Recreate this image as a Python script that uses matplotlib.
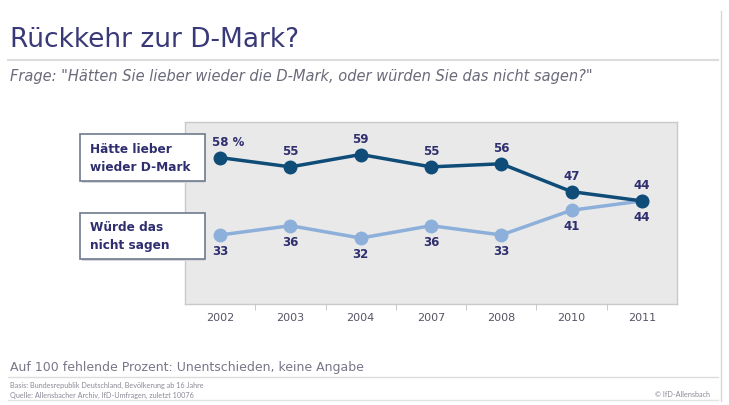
import matplotlib
matplotlib.use("Agg")
import matplotlib.pyplot as plt
from matplotlib.patches import Rectangle
from matplotlib.lines import Line2D

years = ["2002", "2003", "2004", "2007", "2008", "2010", "2011"]
haette_lieber = [58, 55, 59, 55, 56, 47, 44]
nicht_sagen = [33, 36, 32, 36, 33, 41, 44]

dark = "#0f4c78"
light = "#8db0da"
navy = "#2f2e6e"
grey_text = "#6a6a7a"

plt.rcParams['font.family'] = ['DejaVu Sans']

fig = plt.figure(figsize=(7.29, 4.06), dpi=100)
W, H = 729, 406

def fx(px):
    return px / W

def fy(py):
    return 1 - py / H

ax = fig.add_axes([fx(185), fy(305), fx(677) - fx(185), fy(123) - fy(305)])
ax.set_facecolor("#e9e9e9")
for s in ax.spines.values():
    s.set_color("#c9c9c9")
    s.set_linewidth(1.0)

x = list(range(len(years)))
ax.plot(x, nicht_sagen, color=light, lw=2.5, marker="o", ms=9, zorder=3)
ax.plot(x, haette_lieber, color=dark, lw=2.5, marker="o", ms=9, zorder=4)

ax.set_xlim(-0.5, len(years) - 0.5)
ax.set_ylim(10.7, 69.5)
ax.set_yticks([])
ax.set_xticks(x)
ax.set_xticklabels(years, color="#555566", fontsize=8)
ax.tick_params(axis="x", length=0, pad=6)
ax.set_xticks([i + 0.5 for i in x[:-1]], minor=True)
ax.tick_params(axis="x", which="minor", length=4, color="#c0c0c0", direction="out")

for i, v in enumerate(haette_lieber):
    if i == 0:
        ax.annotate(f"{v} %", (i, v), xytext=(-6, 7), textcoords="offset points",
                    ha="left", va="bottom", fontsize=8.5, fontweight="bold", color=navy)
    else:
        ax.annotate(f"{v}", (i, v), xytext=(0, 7), textcoords="offset points",
                    ha="center", va="bottom", fontsize=8.5, fontweight="bold", color=navy)
for i, v in enumerate(nicht_sagen):
    ax.annotate(f"{v}", (i, v), xytext=(0, -6.5), textcoords="offset points",
                ha="center", va="top", fontsize=8.5, fontweight="bold", color=navy)

# Legend boxes
for (y0, y1, txt) in [(135, 182, "Hätte lieber\nwieder D-Mark"),
                      (214, 260, "Würde das\nnicht sagen")]:
    fig.patches.append(Rectangle((fx(82), fy(y1) - 0.006), fx(205) - fx(82), fy(y0) - fy(y1),
                                 transform=fig.transFigure, facecolor="#d5d8de",
                                 edgecolor="none", zorder=1))
    fig.patches.append(Rectangle((fx(80), fy(y1)), fx(205) - fx(80), fy(y0) - fy(y1),
                                 transform=fig.transFigure, facecolor="white",
                                 edgecolor="#6f7a8c", linewidth=1.2, zorder=2))
    fig.text(fx(90), (fy(y0) + fy(y1)) / 2, txt, ha="left", va="center",
             fontsize=8.7, fontweight="bold", color=navy, linespacing=1.5, zorder=3)

# Title and subtitle
fig.text(fx(10), fy(40), "Rückkehr zur D-Mark?", fontsize=19, color="#3a3978",
         ha="left", va="center")
fig.add_artist(Line2D([fx(8), fx(718)], [fy(61), fy(61)], color="#dcdcdc", lw=1.5))
fig.text(fx(10), fy(76), 'Frage: "Hätten Sie lieber wieder die D-Mark, oder würden Sie das nicht sagen?"',
         fontsize=10.5, style="italic", color=grey_text, ha="left", va="center")

# Right frame line
fig.add_artist(Line2D([fx(721), fx(721)], [fy(12), fy(402)], color="#d8d8d8", lw=1.0))

# Footer
fig.text(fx(10), fy(368), "Auf 100 fehlende Prozent: Unentschieden, keine Angabe",
         fontsize=9, color="#777788", ha="left", va="center")
fig.add_artist(Line2D([fx(8), fx(718)], [fy(378), fy(378)], color="#dcdcdc", lw=1.0))
fig.text(fx(10), fy(385), "Basis: Bundesrepublik Deutschland, Bevölkerung ab 16 Jahre",
         fontsize=5.2, color="#8a8a96", ha="left", va="center", family="Lato")
fig.text(fx(10), fy(395), "Quelle: Allensbacher Archiv, IfD-Umfragen, zuletzt 10076",
         fontsize=5.2, color="#8a8a96", ha="left", va="center", family="Lato")
fig.text(fx(710), fy(395), "© IfD-Allensbach", fontsize=5.2, color="#8a8a96",
         ha="right", va="center", family="Lato")
fig.add_artist(Line2D([fx(8), fx(718)], [fy(401), fy(401)], color="#e4e4e4", lw=1.0))

fig.savefig("out.png", dpi=100, facecolor="white")
